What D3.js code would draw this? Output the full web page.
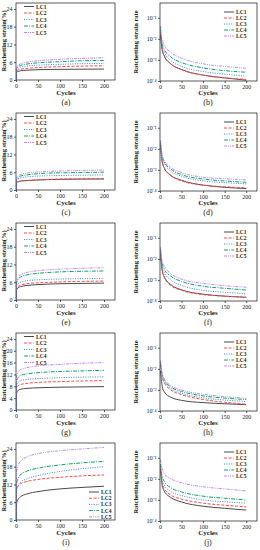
<!DOCTYPE html>
<html>
<head>
<meta charset="utf-8">
<script src="https://cdn.jsdelivr.net/npm/d3@7"></script>
<style>
  body { margin: 0; background: #fff; }
  svg { display: block; }
  .axis path, .axis line { stroke: #333; stroke-width: 0.8; }
  .axis text { font-family: "Liberation Serif", serif; font-size: 6px; fill: #222; }
  .lbl { font-family: "Liberation Serif", serif; font-weight: bold; fill: #222; }
</style>
</head>
<body>
<div id="chart"></div>
<script>
// ---- data ----
var seriesNames = ["LC1", "LC2", "LC3", "LC4", "LC5"];
var strainCycles = [0, 1, 5, 10, 25, 50, 100, 150, 200];
var rateCycles = [1, 5, 10, 25, 50, 100, 150, 200];
var xTicks = [0, 50, 100, 150, 200];
var rateTicks = [1e-4, 1e-3, 1e-2, 1e-1];
var panelLetters = ["(a)", "(b)", "(c)", "(d)", "(e)", "(f)", "(g)", "(h)", "(i)", "(j)"];

var strainA = [
  [0, 2.6, 2.9, 3.1, 3.3, 3.5, 3.6, 3.65, 3.7],
  [0, 3.0, 3.4, 3.6, 3.9, 4.2, 4.5, 4.7, 4.8],
  [0, 3.4, 4.0, 4.3, 4.7, 5.0, 5.3, 5.5, 5.6],
  [0, 3.8, 4.5, 4.9, 5.4, 5.8, 6.2, 6.5, 6.6],
  [0, 4.2, 5.0, 5.4, 6.0, 6.5, 7.0, 7.3, 7.5]
];
var strainC = [
  [0, 2.4, 2.8, 3.0, 3.2, 3.4, 3.6, 3.7, 3.7],
  [0, 2.3, 2.7, 2.9, 3.2, 3.4, 3.7, 3.8, 3.9],
  [0, 3.2, 3.8, 4.1, 4.4, 4.7, 4.9, 5.0, 5.1],
  [0, 3.6, 4.3, 4.7, 5.1, 5.5, 5.8, 5.9, 6.0],
  [0, 4.0, 4.8, 5.2, 5.7, 6.1, 6.4, 6.6, 6.7]
];
var strainE = [
  [0, 3.4, 4.1, 4.5, 4.9, 5.2, 5.5, 5.6, 5.7],
  [0, 3.8, 4.6, 5.0, 5.5, 5.8, 6.1, 6.3, 6.4],
  [0, 4.5, 5.5, 6.0, 6.5, 6.8, 7.1, 7.2, 7.3],
  [0, 5.5, 7.0, 7.7, 8.5, 9.0, 9.5, 9.7, 9.8],
  [0, 6.0, 7.6, 8.4, 9.3, 9.9, 10.4, 10.7, 10.9]
];
var strainG = [
  [0, 5.5, 6.6, 7.0, 7.3, 7.5, 7.7, 7.8, 7.9],
  [0, 7.0, 8.2, 8.6, 9.0, 9.3, 9.6, 9.8, 9.9],
  [0, 8.0, 9.4, 9.9, 10.3, 10.6, 10.9, 11.1, 11.2],
  [0, 9.5, 11.0, 11.6, 12.2, 12.6, 13.0, 13.2, 13.4],
  [0, 11.0, 12.9, 13.6, 14.3, 14.9, 15.4, 15.8, 16.0]
];
var strainI = [
  [0, 5.5, 7.0, 7.8, 8.8, 9.6, 10.5, 11.0, 11.4],
  [0, 10.0, 11.5, 12.2, 13.0, 13.7, 14.4, 14.9, 15.2],
  [0, 10.0, 11.8, 12.7, 13.9, 15.0, 16.4, 17.3, 18.0],
  [0, 12.0, 14.0, 15.2, 16.5, 17.5, 18.6, 19.3, 19.8],
  [0, 16.0, 18.5, 19.8, 21.3, 22.4, 23.4, 24.0, 24.5]
];

var rateB = [
  [1.5e-2, 3e-3, 1.5e-3, 6.5e-4, 3.5e-4, 1.9e-4, 1.4e-4, 1.1e-4],
  [2e-2, 3.5e-3, 1.7e-3, 6.5e-4, 3.4e-4, 1.9e-4, 1.4e-4, 1.2e-4],
  [2.5e-2, 4.5e-3, 2.3e-3, 9.5e-4, 5e-4, 2.8e-4, 2.1e-4, 1.7e-4],
  [3e-2, 6e-3, 3.2e-3, 1.4e-3, 7.5e-4, 4.2e-4, 3.1e-4, 2.6e-4],
  [4e-2, 9e-3, 5e-3, 2.3e-3, 1.2e-3, 6.5e-4, 4.9e-4, 4e-4]
];
var rateD = [
  [1.5e-2, 2.5e-3, 1.2e-3, 5.5e-4, 3.2e-4, 1.9e-4, 1.5e-4, 1.3e-4],
  [1.5e-2, 2.5e-3, 1.3e-3, 5.5e-4, 3e-4, 1.9e-4, 1.6e-4, 1.4e-4],
  [2e-2, 4e-3, 2e-3, 9e-4, 5e-4, 3e-4, 2.5e-4, 2.2e-4],
  [2e-2, 4.5e-3, 2.4e-3, 1.1e-3, 6e-4, 3.7e-4, 3e-4, 2.6e-4],
  [2.5e-2, 5e-3, 2.8e-3, 1.3e-3, 7.5e-4, 4.5e-4, 3.8e-4, 3.4e-4]
];
var rateF = [
  [2e-2, 3e-3, 1.4e-3, 6e-4, 3.4e-4, 2.1e-4, 1.7e-4, 1.5e-4],
  [1.8e-2, 2.8e-3, 1.3e-3, 5.5e-4, 3.2e-4, 2e-4, 1.7e-4, 1.5e-4],
  [2.5e-2, 4.5e-3, 2.2e-3, 1e-3, 5.5e-4, 3.2e-4, 2.6e-4, 2.2e-4],
  [3e-2, 6e-3, 3.2e-3, 1.5e-3, 8.5e-4, 5e-4, 4e-4, 3.3e-4],
  [3.5e-2, 8e-3, 4.5e-3, 2e-3, 1.1e-3, 6.8e-4, 5.3e-4, 4.5e-4]
];
var rateH = [
  [8e-3, 1.5e-3, 8e-4, 4.5e-4, 3.2e-4, 2.5e-4, 2.2e-4, 2e-4],
  [1.5e-2, 4e-3, 2.2e-3, 1e-3, 6e-4, 3.5e-4, 2.6e-4, 2.1e-4],
  [1.8e-2, 4.5e-3, 2.5e-3, 1.2e-3, 7e-4, 4.2e-4, 3.3e-4, 2.8e-4],
  [2e-2, 5.5e-3, 3e-3, 1.4e-3, 8.5e-4, 5.2e-4, 4.1e-4, 3.5e-4],
  [2.5e-2, 6e-3, 3.3e-3, 1.6e-3, 1e-3, 6.2e-4, 4.8e-4, 4e-4]
];
var rateJ = [
  [3e-2, 5e-3, 2.6e-3, 1.3e-3, 8e-4, 5e-4, 4e-4, 3.3e-4],
  [3.5e-2, 6.5e-3, 3.5e-3, 1.7e-3, 1.1e-3, 7e-4, 5.6e-4, 4.7e-4],
  [4e-2, 9e-3, 5e-3, 2.5e-3, 1.6e-3, 1e-3, 8.2e-4, 7e-4],
  [5e-2, 1.3e-2, 7.5e-3, 3.8e-3, 2.4e-3, 1.5e-3, 1.2e-3, 1e-3],
  [8e-2, 3e-2, 1.8e-2, 1e-2, 6.5e-3, 4.2e-3, 3.3e-3, 2.7e-3]
];

var strainPanels = [strainA, strainC, strainE, strainG, strainI];
var ratePanels = [rateB, rateD, rateF, rateH, rateJ];
var strainTickSteps = [6, 6, 6, 4, 6];

// ---- styles ----
var colors = ["#4a4a4a", "#ff4d4d", "#3d86ff", "#14a06e", "#c384ff"];
var dashes = [null, "3,1.6", "1,1.4", "4,1.2,1,1.2", "3,1,1,1,1,1"];

var W = 260, H = 550, rowH = 110;
var svg = d3.select("#chart").append("svg").attr("width", W).attr("height", H);

var sup = {"-": "\u207B", "0": "\u2070", "1": "\u00B9", "2": "\u00B2", "3": "\u00B3", "4": "\u2074"};
function powLabel(v) {
  var e = String(Math.round(Math.log10(v)));
  return "10" + e.split("").map(c => sup[c]).join("");
}

function frame(g, x0, x1, y0, y1) {
  g.append("rect").attr("x", x0).attr("y", y0)
    .attr("width", x1 - x0).attr("height", y1 - y0)
    .attr("fill", "none").attr("stroke", "#333").attr("stroke-width", 0.8);
}

function legend(g, lx, ly, step) {
  seriesNames.forEach((name, i) => {
    var y = ly + i * step;
    g.append("line").attr("x1", lx).attr("x2", lx + 10).attr("y1", y).attr("y2", y)
      .attr("stroke", colors[i]).attr("stroke-width", 1)
      .attr("stroke-dasharray", dashes[i]);
    g.append("text").attr("class", "lbl").attr("x", lx + 12).attr("y", y + 2)
      .style("font-size", "5.5px").text(name);
  });
}

function panelLabels(g, cx, plotBottom, letter) {
  g.append("text").attr("class", "lbl").attr("x", cx).attr("y", plotBottom + 15)
    .attr("text-anchor", "middle").style("font-size", "7px").text("Cycles");
  g.append("text").attr("x", cx).attr("y", plotBottom + 25)
    .attr("text-anchor", "middle").style("font-family", "Liberation Serif, serif")
    .style("font-size", "8px").attr("fill", "#222").text(letter);
}

strainPanels.forEach((data, r) => {
  var top = r * rowH;

  // ---------- left: ratchetting strain ----------
  var gL = svg.append("g");
  var xL = d3.scaleLinear().domain([0, 225]).range([16, 115]);
  var yL = d3.scaleLinear().domain([0, 26]).range([top + 80, top + 3]);
  var stepT = strainTickSteps[r];

  var clipId = "clipL" + r;
  gL.append("clipPath").attr("id", clipId).append("rect")
    .attr("x", 16).attr("y", top + 3).attr("width", 99).attr("height", 77);

  data.forEach((vals, i) => {
    var pts = strainCycles.map((c, k) => [c, vals[k]]);
    gL.append("path").datum(pts)
      .attr("clip-path", "url(#" + clipId + ")")
      .attr("fill", "none").attr("stroke", colors[i]).attr("stroke-width", 1)
      .attr("stroke-dasharray", dashes[i])
      .attr("d", d3.line().x(d => xL(d[0])).y(d => yL(d[1])).curve(d3.curveMonotoneX));
  });

  gL.append("g").attr("class", "axis").attr("transform", "translate(0," + (top + 80) + ")")
    .call(d3.axisBottom(xL).tickValues(xTicks).tickSize(2).tickPadding(1.5))
    .call(g => g.select(".domain").remove());
  gL.append("g").attr("class", "axis").attr("transform", "translate(16,0)")
    .call(d3.axisLeft(yL).tickValues(d3.range(0, 25, stepT)).tickSize(2).tickPadding(1.5))
    .call(g => g.select(".domain").remove());
  frame(gL, 16, 115, top + 3, top + 80);

  gL.append("text").attr("class", "lbl")
    .attr("transform", "translate(6," + (top + 41) + ") rotate(-90)")
    .attr("text-anchor", "middle").style("font-size", "6.5px")
    .text("Ratchetting strain(%)");
  panelLabels(gL, 66, top + 80, panelLetters[r * 2]);

  if (r === 4) legend(gL, 89, top + 52, 6.2);
  else legend(gL, 24, top + 6.5, 6.5);

  // ---------- right: ratchetting strain rate ----------
  var gR = svg.append("g");
  var rates = ratePanels[r];
  var xR = d3.scaleLinear().domain([0, 225]).range([160, 257]);
  var yR = d3.scaleLog().domain([1e-4, 0.5]).range([top + 81, top + 3]);

  var clipR = "clipR" + r;
  gR.append("clipPath").attr("id", clipR).append("rect")
    .attr("x", 160).attr("y", top + 3).attr("width", 97).attr("height", 78);

  rates.forEach((vals, i) => {
    var pts = rateCycles.map((c, k) => [c, vals[k]]);
    gR.append("path").datum(pts)
      .attr("clip-path", "url(#" + clipR + ")")
      .attr("fill", "none").attr("stroke", colors[i]).attr("stroke-width", 1)
      .attr("stroke-dasharray", dashes[i])
      .attr("d", d3.line().x(d => xR(d[0])).y(d => yR(d[1])).curve(d3.curveMonotoneX));
  });

  gR.append("g").attr("class", "axis").attr("transform", "translate(0," + (top + 81) + ")")
    .call(d3.axisBottom(xR).tickValues(xTicks).tickSize(2).tickPadding(1.5))
    .call(g => g.select(".domain").remove());
  gR.append("g").attr("class", "axis").attr("transform", "translate(160,0)")
    .call(d3.axisLeft(yR).tickValues(rateTicks).tickFormat(powLabel).tickSize(2).tickPadding(1.5))
    .call(g => g.select(".domain").remove());
  frame(gR, 160, 257, top + 3, top + 81);

  gR.append("text").attr("class", "lbl")
    .attr("transform", "translate(138," + (top + 42) + ") rotate(-90)")
    .attr("text-anchor", "middle").style("font-size", "6.5px")
    .text("Ratchetting strain rate");
  panelLabels(gR, 208, top + 80, panelLetters[r * 2 + 1]);

  legend(gR, 224, top + 12, 6);
});
</script>
</body>
</html>
